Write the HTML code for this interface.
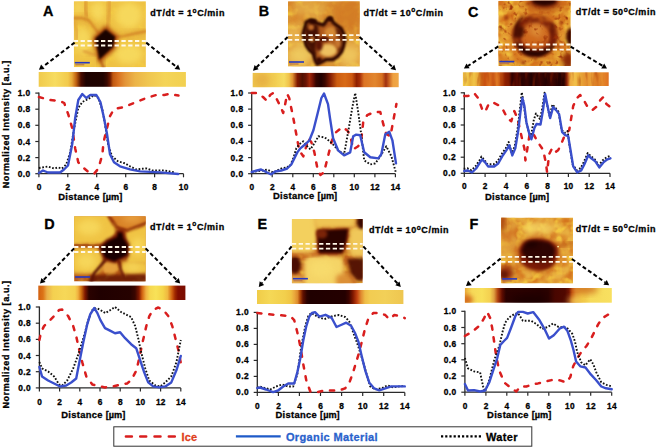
<!DOCTYPE html><html><head><meta charset="utf-8"><title>Figure</title><style>html,body{margin:0;padding:0;background:#fff;}body{width:656px;height:448px;overflow:hidden;}svg{display:block;}text{font-family:"Liberation Sans",sans-serif;font-weight:bold;stroke:#000;stroke-width:0.3px;}</style></head><body>
<svg width="656" height="448" viewBox="0 0 656 448">
<defs>

<filter id="bl1" color-interpolation-filters="sRGB" x="-30%" y="-30%" width="160%" height="160%"><feGaussianBlur stdDeviation="1"/></filter>
<filter id="bl15" color-interpolation-filters="sRGB" x="-30%" y="-30%" width="160%" height="160%"><feGaussianBlur stdDeviation="1.5"/></filter>
<filter id="bl2" color-interpolation-filters="sRGB" x="-30%" y="-30%" width="160%" height="160%"><feGaussianBlur stdDeviation="2"/></filter>
<filter id="bl3" color-interpolation-filters="sRGB" x="-40%" y="-40%" width="180%" height="180%"><feGaussianBlur stdDeviation="3"/></filter>
<filter id="bl5" color-interpolation-filters="sRGB" x="-50%" y="-50%" width="200%" height="200%"><feGaussianBlur stdDeviation="5"/></filter>
<filter id="tex" color-interpolation-filters="sRGB" x="0" y="0" width="100%" height="100%">
  <feTurbulence type="fractalNoise" baseFrequency="0.35" numOctaves="2" seed="3" result="n"/>
  <feColorMatrix in="n" type="matrix" values="0 0 0 0 1  0 0 0 0 0.95  0 0 0 0 0.6  0 0 0 -1.6 0.95" result="m"/>
  <feComposite in="m" in2="SourceGraphic" operator="in"/>
</filter>
<filter id="tex2" color-interpolation-filters="sRGB" x="0" y="0" width="100%" height="100%">
  <feTurbulence type="fractalNoise" baseFrequency="0.18" numOctaves="2" seed="7" result="n"/>
  <feColorMatrix in="n" type="matrix" values="0 0 0 0 0.75  0 0 0 0 0.35  0 0 0 0 0.05  0 0 0 -2.2 1.05" result="m"/>
  <feComposite in="m" in2="SourceGraphic" operator="in"/>
</filter>
<filter id="mot1" color-interpolation-filters="sRGB" x="0" y="0" width="100%" height="100%">
  <feTurbulence type="fractalNoise" baseFrequency="0.09" numOctaves="2" seed="11" result="n"/>
  <feColorMatrix in="n" type="matrix" values="0 0 0 0 0.82  0 0 0 0 0.42  0 0 0 0 0.10  3.5 0 0 0 -1.6" result="m0"/>
  <feGaussianBlur in="m0" stdDeviation="0.8" result="m"/>
  <feComposite in="m" in2="SourceGraphic" operator="in"/>
</filter>
<filter id="mot2" color-interpolation-filters="sRGB" x="0" y="0" width="100%" height="100%">
  <feTurbulence type="fractalNoise" baseFrequency="0.13" numOctaves="2" seed="5" result="n"/>
  <feColorMatrix in="n" type="matrix" values="0 0 0 0 0.97  0 0 0 0 0.82  0 0 0 0 0.26  0 3.5 0 0 -1.6" result="m0"/>
  <feGaussianBlur in="m0" stdDeviation="0.7" result="m"/>
  <feComposite in="m" in2="SourceGraphic" operator="in"/>
</filter>
<filter id="mot3" color-interpolation-filters="sRGB" x="0" y="0" width="100%" height="100%">
  <feTurbulence type="fractalNoise" baseFrequency="0.2" numOctaves="2" seed="21" result="n"/>
  <feColorMatrix in="n" type="matrix" values="0 0 0 0 0.62  0 0 0 0 0.20  0 0 0 0 0.03  0 0 4 0 -2.3" result="m0"/>
  <feGaussianBlur in="m0" stdDeviation="0.6" result="m"/>
  <feComposite in="m" in2="SourceGraphic" operator="in"/>
</filter>

<filter id="streak" color-interpolation-filters="sRGB" x="0" y="0" width="100%" height="100%"><feTurbulence type="fractalNoise" baseFrequency="0.22 0.05" numOctaves="2" seed="4" result="n"/><feColorMatrix in="n" type="matrix" values="0 0 0 0 0.62  0 0 0 0 0.16  0 0 0 0 0.0  3 0 0 0 -1.5" result="m0"/><feGaussianBlur in="m0" stdDeviation="0.5"/><feComposite in2="SourceGraphic" operator="in"/></filter>
<marker id="ah" viewBox="0 0 10 10" refX="9" refY="5" markerWidth="3.2" markerHeight="3.2" markerUnits="strokeWidth" orient="auto"><path d="M0,0 L10,5 L0,10 z" fill="#000"/></marker>
<linearGradient id="gA" gradientUnits="userSpaceOnUse" x1="38.7" y1="0" x2="185.89999999999998" y2="0">
<stop offset="0.0000" stop-color="#f0ca4c"/>
<stop offset="0.1107" stop-color="#f7dc60"/>
<stop offset="0.1990" stop-color="#f2ca4c"/>
<stop offset="0.2262" stop-color="#e8a838"/>
<stop offset="0.2548" stop-color="#c06010"/>
<stop offset="0.2874" stop-color="#4a0c00"/>
<stop offset="0.3213" stop-color="#1e0200"/>
<stop offset="0.4368" stop-color="#200300"/>
<stop offset="0.4640" stop-color="#3a0800"/>
<stop offset="0.4844" stop-color="#6a1800"/>
<stop offset="0.5048" stop-color="#c05810"/>
<stop offset="0.5387" stop-color="#d87020"/>
<stop offset="0.5863" stop-color="#e39438"/>
<stop offset="0.6542" stop-color="#ecb448"/>
<stop offset="0.7425" stop-color="#f0c650"/>
<stop offset="0.8580" stop-color="#f4d458"/>
<stop offset="1.0000" stop-color="#f2d050"/>
</linearGradient>
<linearGradient id="gB" gradientUnits="userSpaceOnUse" x1="252.7" y1="0" x2="398.7" y2="0">
<stop offset="0.0000" stop-color="#efc64c"/>
<stop offset="0.1527" stop-color="#f2ce52"/>
<stop offset="0.2144" stop-color="#f6dc60"/>
<stop offset="0.2486" stop-color="#f0c24a"/>
<stop offset="0.2733" stop-color="#e09030"/>
<stop offset="0.3062" stop-color="#801800"/>
<stop offset="0.3397" stop-color="#501000"/>
<stop offset="0.3651" stop-color="#6a1404"/>
<stop offset="0.3897" stop-color="#a02808"/>
<stop offset="0.4130" stop-color="#701204"/>
<stop offset="0.4336" stop-color="#350500"/>
<stop offset="0.4678" stop-color="#200000"/>
<stop offset="0.4952" stop-color="#3c0600"/>
<stop offset="0.5295" stop-color="#801c04"/>
<stop offset="0.5774" stop-color="#cc5c10"/>
<stop offset="0.6322" stop-color="#d86a16"/>
<stop offset="0.6801" stop-color="#cc5810"/>
<stop offset="0.7116" stop-color="#902000"/>
<stop offset="0.7349" stop-color="#a83008"/>
<stop offset="0.7623" stop-color="#dc7424"/>
<stop offset="0.8377" stop-color="#e2862e"/>
<stop offset="0.8856" stop-color="#d67020"/>
<stop offset="0.9123" stop-color="#a03010"/>
<stop offset="0.9336" stop-color="#c86020"/>
<stop offset="0.9610" stop-color="#eea040"/>
<stop offset="1.0000" stop-color="#f0a848"/>
</linearGradient>
<linearGradient id="gC" gradientUnits="userSpaceOnUse" x1="462.9" y1="0" x2="608.7" y2="0">
<stop offset="0.0000" stop-color="#f2c848"/>
<stop offset="0.0213" stop-color="#f4d050"/>
<stop offset="0.0487" stop-color="#e8b038"/>
<stop offset="0.0761" stop-color="#f0c448"/>
<stop offset="0.1036" stop-color="#e8a838"/>
<stop offset="0.1241" stop-color="#cc6818"/>
<stop offset="0.1516" stop-color="#c85010"/>
<stop offset="0.1790" stop-color="#de7420"/>
<stop offset="0.2064" stop-color="#c85414"/>
<stop offset="0.2339" stop-color="#e07a24"/>
<stop offset="0.2613" stop-color="#c05010"/>
<stop offset="0.2888" stop-color="#902000"/>
<stop offset="0.3162" stop-color="#7a1800"/>
<stop offset="0.3368" stop-color="#300000"/>
<stop offset="0.3711" stop-color="#5a0a00"/>
<stop offset="0.3985" stop-color="#240000"/>
<stop offset="0.4396" stop-color="#3a0400"/>
<stop offset="0.4671" stop-color="#200000"/>
<stop offset="0.5288" stop-color="#3a0400"/>
<stop offset="0.5700" stop-color="#240000"/>
<stop offset="0.6111" stop-color="#400600"/>
<stop offset="0.6523" stop-color="#220000"/>
<stop offset="0.6934" stop-color="#2c0200"/>
<stop offset="0.7140" stop-color="#902408"/>
<stop offset="0.7346" stop-color="#eca840"/>
<stop offset="0.7689" stop-color="#f2c04a"/>
<stop offset="0.8032" stop-color="#e8a838"/>
<stop offset="0.8443" stop-color="#e49030"/>
<stop offset="0.8786" stop-color="#eaa038"/>
<stop offset="0.9129" stop-color="#dc7c24"/>
<stop offset="0.9540" stop-color="#e48a2c"/>
<stop offset="1.0000" stop-color="#e07020"/>
</linearGradient>
<linearGradient id="gD" gradientUnits="userSpaceOnUse" x1="38.3" y1="0" x2="185.39999999999998" y2="0">
<stop offset="0.0000" stop-color="#d26010"/>
<stop offset="0.0320" stop-color="#dc7418"/>
<stop offset="0.0591" stop-color="#eab048"/>
<stop offset="0.0999" stop-color="#f4d050"/>
<stop offset="0.1815" stop-color="#f6d858"/>
<stop offset="0.2495" stop-color="#f4d050"/>
<stop offset="0.2699" stop-color="#f0b040"/>
<stop offset="0.2916" stop-color="#d07010"/>
<stop offset="0.3175" stop-color="#801800"/>
<stop offset="0.3447" stop-color="#2a0200"/>
<stop offset="0.4194" stop-color="#200000"/>
<stop offset="0.6234" stop-color="#260200"/>
<stop offset="0.6574" stop-color="#3a0600"/>
<stop offset="0.6846" stop-color="#801800"/>
<stop offset="0.7050" stop-color="#d06010"/>
<stop offset="0.7322" stop-color="#f0b040"/>
<stop offset="0.7593" stop-color="#f6d850"/>
<stop offset="0.8001" stop-color="#f8e258"/>
<stop offset="0.8477" stop-color="#f4d448"/>
<stop offset="0.8783" stop-color="#f0b840"/>
<stop offset="0.9089" stop-color="#d06010"/>
<stop offset="0.9293" stop-color="#a02800"/>
<stop offset="0.9497" stop-color="#800c00"/>
<stop offset="1.0000" stop-color="#7a0c00"/>
</linearGradient>
<linearGradient id="gE" gradientUnits="userSpaceOnUse" x1="257.0" y1="0" x2="403.4" y2="0">
<stop offset="0.0000" stop-color="#f0cc48"/>
<stop offset="0.0888" stop-color="#f5d856"/>
<stop offset="0.1913" stop-color="#f2cf4c"/>
<stop offset="0.2322" stop-color="#f0c444"/>
<stop offset="0.2561" stop-color="#eaa83c"/>
<stop offset="0.2773" stop-color="#dc8a2c"/>
<stop offset="0.2937" stop-color="#b04808"/>
<stop offset="0.3142" stop-color="#601000"/>
<stop offset="0.3415" stop-color="#2a0200"/>
<stop offset="0.3620" stop-color="#200000"/>
<stop offset="0.6011" stop-color="#240000"/>
<stop offset="0.6284" stop-color="#3c0400"/>
<stop offset="0.6557" stop-color="#801800"/>
<stop offset="0.6831" stop-color="#c04010"/>
<stop offset="0.7104" stop-color="#e08a30"/>
<stop offset="0.7377" stop-color="#eebc46"/>
<stop offset="0.7719" stop-color="#f2cc52"/>
<stop offset="0.8743" stop-color="#f2d058"/>
<stop offset="1.0000" stop-color="#eec650"/>
</linearGradient>
<linearGradient id="gF" gradientUnits="userSpaceOnUse" x1="464.9" y1="0" x2="611.8" y2="0">
<stop offset="0.0000" stop-color="#e8a838"/>
<stop offset="0.0211" stop-color="#f0c048"/>
<stop offset="0.0483" stop-color="#f6d858"/>
<stop offset="0.1164" stop-color="#f8e05a"/>
<stop offset="0.1709" stop-color="#f4d050"/>
<stop offset="0.1981" stop-color="#e0a040"/>
<stop offset="0.2240" stop-color="#b04010"/>
<stop offset="0.2526" stop-color="#600c00"/>
<stop offset="0.2798" stop-color="#2c0200"/>
<stop offset="0.5112" stop-color="#260000"/>
<stop offset="0.5657" stop-color="#2a0200"/>
<stop offset="0.6133" stop-color="#480600"/>
<stop offset="0.6814" stop-color="#500800"/>
<stop offset="0.7086" stop-color="#701404"/>
<stop offset="0.7291" stop-color="#c05010"/>
<stop offset="0.7563" stop-color="#e09030"/>
<stop offset="0.7971" stop-color="#f0c040"/>
<stop offset="0.8516" stop-color="#f6da5a"/>
<stop offset="1.0000" stop-color="#f8e060"/>
</linearGradient>
</defs>
<rect width="656" height="448" fill="#fff"/>
<svg x="73.8" y="1.2" width="72.1" height="66.0" viewBox="0 0 72.1 66.0" overflow="hidden"><rect width="72.1" height="66.0" fill="#efc244"/>
<rect width="72.1" height="66.0" fill="#fff" filter="url(#mot2)" opacity="0.5"/>
<ellipse cx="5" cy="6" rx="5" ry="7" fill="#f5d45a" filter="url(#bl3)"/>
<ellipse cx="24" cy="10" rx="7" ry="10" fill="#f6d85c" filter="url(#bl3)"/>
<ellipse cx="55" cy="14" rx="13" ry="13" fill="#f6d85c" filter="url(#bl3)"/>
<ellipse cx="9" cy="40" rx="8" ry="14" fill="#f5d65a" filter="url(#bl3)"/>
<ellipse cx="55" cy="53" rx="14" ry="10" fill="#f6d85c" filter="url(#bl3)"/>
<path d="M-1,17 L8,17 L15,19 L21,27 L25,32" fill="none" stroke="#cc7420" stroke-width="6" stroke-linecap="round" stroke-linejoin="round" filter="url(#bl3)" opacity="0.3"/>
<path d="M12,-1 L11.5,8 L13,15" fill="none" stroke="#d88a2c" stroke-width="6" stroke-linecap="round" stroke-linejoin="round" filter="url(#bl3)" opacity="0.3"/>
<path d="M35.7,-2 L35.4,8.2 L34.5,19.1 L33.4,29" fill="none" stroke="#dc9434" stroke-width="6" stroke-linecap="round" stroke-linejoin="round" filter="url(#bl3)" opacity="0.3"/>
<path d="M39,36 L49.8,35 L60.7,32.4 L73,30" fill="none" stroke="#cc7420" stroke-width="6" stroke-linecap="round" stroke-linejoin="round" filter="url(#bl3)" opacity="0.3"/>
<path d="M25,56 L27.5,61.3 L30,67" fill="none" stroke="#a84410" stroke-width="6" stroke-linecap="round" stroke-linejoin="round" filter="url(#bl3)" opacity="0.3"/>
<path d="M10,50 L18.5,53 L25,54" fill="none" stroke="#dc9434" stroke-width="6" stroke-linecap="round" stroke-linejoin="round" filter="url(#bl3)" opacity="0.3"/>
<path d="M0,20 L3,30 L3,38" fill="none" stroke="#e0a038" stroke-width="6" stroke-linecap="round" stroke-linejoin="round" filter="url(#bl3)" opacity="0.3"/>
<path d="M-1,17 L8,17 L15,19 L21,27 L25,32" fill="none" stroke="#cc7420" stroke-width="1.8" stroke-linecap="round" stroke-linejoin="round" filter="url(#bl1)" opacity="0.85"/>
<path d="M12,-1 L11.5,8 L13,15" fill="none" stroke="#d88a2c" stroke-width="1.8" stroke-linecap="round" stroke-linejoin="round" filter="url(#bl1)" opacity="0.85"/>
<path d="M35.7,-2 L35.4,8.2 L34.5,19.1 L33.4,29" fill="none" stroke="#dc9434" stroke-width="1.8" stroke-linecap="round" stroke-linejoin="round" filter="url(#bl1)" opacity="0.85"/>
<path d="M39,36 L49.8,35 L60.7,32.4 L73,30" fill="none" stroke="#cc7420" stroke-width="1.8" stroke-linecap="round" stroke-linejoin="round" filter="url(#bl1)" opacity="0.85"/>
<path d="M25,56 L27.5,61.3 L30,67" fill="none" stroke="#a84410" stroke-width="1.8" stroke-linecap="round" stroke-linejoin="round" filter="url(#bl1)" opacity="0.85"/>
<path d="M10,50 L18.5,53 L25,54" fill="none" stroke="#dc9434" stroke-width="1.8" stroke-linecap="round" stroke-linejoin="round" filter="url(#bl1)" opacity="0.85"/>
<path d="M0,20 L3,30 L3,38" fill="none" stroke="#e0a038" stroke-width="1.8" stroke-linecap="round" stroke-linejoin="round" filter="url(#bl1)" opacity="0.85"/>
<path d="M32,24 L44.5,35 L41,48 L25.5,61.5 L18.5,37 Z" fill="#a84008" filter="url(#bl2)"/>
<path d="M31.9,28 L41.5,35.5 L39,46 L25.5,58.5 L21.5,37 Z" fill="#1a0300" filter="url(#bl1)"/>
<rect x="1" y="60.7" width="15" height="1.6" fill="#2838c0"/><rect x="1.5" y="62.8" width="9" height="1.4" fill="#b06848" opacity="0.7"/></svg>
<line x1="73.8" y1="41.0" x2="145.9" y2="41.0" stroke="#fff8e8" stroke-width="1.8" stroke-dasharray="4.3 2.5"/>
<line x1="73.8" y1="45.5" x2="145.9" y2="45.5" stroke="#fff8e8" stroke-width="1.8" stroke-dasharray="4.3 2.5"/>
<rect x="38.7" y="72.0" width="147.2" height="14.8" fill="url(#gA)"/>
<line x1="74.6" y1="42.6" x2="42.9" y2="66.8" stroke="#000" stroke-width="2" stroke-dasharray="4 2.6"/>
<path d="M38.9,69.8 L41.1,64.5 L44.6,69.1 Z" fill="#000"/>
<line x1="146.2" y1="42.6" x2="176.3" y2="66.7" stroke="#000" stroke-width="2" stroke-dasharray="4 2.6"/>
<path d="M180.2,69.8 L174.5,68.9 L178.1,64.4 Z" fill="#000"/>
<text x="43.0" y="16.2" font-size="14.4">A</text>
<text x="150.3" y="16.2" font-size="9" letter-spacing="0.56">dT/dt = 1<tspan dy="-3.4" font-size="6.6">o</tspan><tspan dy="3.4">C/min</tspan></text>
<path d="M38.9,92.6 V173.7 H183.5" fill="none" stroke="#2a2a2a" stroke-width="1.3"/>
<line x1="35.3" y1="173.7" x2="38.9" y2="173.7" stroke="#2a2a2a" stroke-width="1.2"/>
<text x="30.7" y="176.7" font-size="8.4" letter-spacing="0.45" text-anchor="end">0.0</text>
<line x1="35.3" y1="157.6" x2="38.9" y2="157.6" stroke="#2a2a2a" stroke-width="1.2"/>
<text x="30.7" y="160.6" font-size="8.4" letter-spacing="0.45" text-anchor="end">0.2</text>
<line x1="35.3" y1="141.5" x2="38.9" y2="141.5" stroke="#2a2a2a" stroke-width="1.2"/>
<text x="30.7" y="144.5" font-size="8.4" letter-spacing="0.45" text-anchor="end">0.4</text>
<line x1="35.3" y1="125.3" x2="38.9" y2="125.3" stroke="#2a2a2a" stroke-width="1.2"/>
<text x="30.7" y="128.3" font-size="8.4" letter-spacing="0.45" text-anchor="end">0.6</text>
<line x1="35.3" y1="109.2" x2="38.9" y2="109.2" stroke="#2a2a2a" stroke-width="1.2"/>
<text x="30.7" y="112.2" font-size="8.4" letter-spacing="0.45" text-anchor="end">0.8</text>
<line x1="35.3" y1="93.1" x2="38.9" y2="93.1" stroke="#2a2a2a" stroke-width="1.2"/>
<text x="30.7" y="96.1" font-size="8.4" letter-spacing="0.45" text-anchor="end">1.0</text>
<line x1="38.9" y1="173.7" x2="38.9" y2="177.29999999999998" stroke="#2a2a2a" stroke-width="1.2"/>
<text x="39.1" y="189.7" font-size="8.3" letter-spacing="0.3" text-anchor="middle">0</text>
<line x1="67.8" y1="173.7" x2="67.8" y2="177.29999999999998" stroke="#2a2a2a" stroke-width="1.2"/>
<text x="68.0" y="189.7" font-size="8.3" letter-spacing="0.3" text-anchor="middle">2</text>
<line x1="96.7" y1="173.7" x2="96.7" y2="177.29999999999998" stroke="#2a2a2a" stroke-width="1.2"/>
<text x="96.9" y="189.7" font-size="8.3" letter-spacing="0.3" text-anchor="middle">4</text>
<line x1="125.7" y1="173.7" x2="125.7" y2="177.29999999999998" stroke="#2a2a2a" stroke-width="1.2"/>
<text x="125.9" y="189.7" font-size="8.3" letter-spacing="0.3" text-anchor="middle">6</text>
<line x1="154.6" y1="173.7" x2="154.6" y2="177.29999999999998" stroke="#2a2a2a" stroke-width="1.2"/>
<text x="154.8" y="189.7" font-size="8.3" letter-spacing="0.3" text-anchor="middle">8</text>
<line x1="183.5" y1="173.7" x2="183.5" y2="177.29999999999998" stroke="#2a2a2a" stroke-width="1.2"/>
<text x="183.7" y="189.7" font-size="8.3" letter-spacing="0.3" text-anchor="middle">10</text>
<text x="58.2" y="199.7" font-size="9.4" letter-spacing="0.32">Distance <tspan font-size="9.2" letter-spacing="0">[µm]</tspan></text>
<polyline points="38.9,97.0 50.0,100.0 60.1,101.0 64.2,103.0 68.2,114.2 72.2,128.2 75.2,148.4 78.3,162.4 84.3,168.5 90.3,173.5 94.3,173.5 98.4,168.5 102.4,154.4 103.5,142.2 107.0,128.2 110.0,116.1 114.0,109.1 124.1,107.1 136.2,102.0 146.2,98.0 156.2,95.0 164.3,95.0 169.3,94.0 174.3,95.0 178.5,95.5" fill="none" stroke="#d91e1e" stroke-width="2.5" stroke-dasharray="4.2 7.8" stroke-linecap="round" stroke-linejoin="round"/>
<polyline points="38.9,168.0 42.0,167.5 48.0,166.5 54.0,168.5 58.0,167.5 62.0,168.5 66.2,164.5 70.2,152.4 74.2,128.2 78.3,108.0 82.3,102.0 88.3,99.0 94.3,95.0 98.4,98.0 102.4,110.0 105.0,124.0 108.0,144.0 112.0,156.3 118.0,161.3 125.0,163.3 130.0,166.3 136.0,169.4 146.2,168.4 152.2,170.4 164.3,170.4 174.3,172.4" fill="none" stroke="#111" stroke-width="1.9" stroke-dasharray="1.7 1.7" stroke-linejoin="round"/>
<polyline points="38.9,173.0 43.0,170.5 48.0,172.5 60.0,172.5 64.0,169.5 68.0,165.5 72.2,144.3 75.2,118.0 78.3,100.0 82.3,94.0 86.3,98.0 90.3,95.0 96.4,95.0 100.4,102.0 104.0,118.0 107.0,134.0 110.0,154.3 114.0,162.3 120.0,166.3 130.0,169.4 140.2,171.4 160.3,172.4 178.3,174.0" fill="none" stroke="#3a4fcc" stroke-width="2.4" stroke-linejoin="round" stroke-linecap="round"/>
<svg x="288.0" y="1.2" width="71.8" height="65.3" viewBox="0 0 71.8 65.3" overflow="hidden"><rect width="71.8" height="65.3" fill="#dc9634"/>
<rect width="71.8" height="65.3" fill="#fff" filter="url(#mot2)" opacity="0.8"/>
<rect width="71.8" height="65.3" fill="#fff" filter="url(#mot1)" opacity="0.5"/>
<ellipse cx="60" cy="14" rx="16" ry="16" fill="#d27a24" filter="url(#bl5)" opacity="0.9"/>
<ellipse cx="22" cy="8" rx="18" ry="9" fill="#e4ac48" filter="url(#bl5)" opacity="0.8"/>
<ellipse cx="12" cy="54" rx="14" ry="12" fill="#eec85e" filter="url(#bl5)"/>
<ellipse cx="62" cy="54" rx="12" ry="12" fill="#eec45c" filter="url(#bl5)"/>
<ellipse cx="6" cy="32" rx="7" ry="10" fill="#e8b450" filter="url(#bl5)"/>
<path d="M18.3,20.7 L23,19.1 L29.3,22.3 L35.5,23.8 L39.4,18.3 L42.6,16.8 L44.9,20.7 L48,23.8 L52.7,27 L55.9,33.2 L56.6,39.5 L55.1,45.7 L53.5,50.4 L49.6,55.1 L44.9,58.2 L38.7,58.2 L32.4,61.3 L29.3,62.9 L26.9,58.2 L25.4,52 L21.5,48.8 L18.3,44.1 L16.8,37.9 L15.2,33.2 L16.8,27 Z" fill="#b05a1c" filter="url(#bl1)"/>
<path d="M18.3,20.7 L23,19.1 L29.3,22.3 L35.5,23.8 L39.4,18.3 L42.6,16.8 L44.9,20.7 L48,23.8 L52.7,27 L55.9,33.2 L56.6,39.5 L55.1,45.7 L53.5,50.4 L49.6,55.1 L44.9,58.2 L38.7,58.2 L32.4,61.3 L29.3,62.9 L26.9,58.2 L25.4,52 L21.5,48.8 L18.3,44.1 L16.8,37.9 L15.2,33.2 L16.8,27 Z" fill="none" stroke="#2e0600" stroke-width="3.6" stroke-linejoin="round" filter="url(#bl1)"/>
<ellipse cx="40" cy="49" rx="9" ry="6.5" fill="#eec060" filter="url(#bl15)"/>
<ellipse cx="43" cy="31" rx="6.5" ry="5.5" fill="#d68a34" filter="url(#bl15)"/>
<path d="M17,27 L23,21 L30,24 L31,34 L28,46 L27,55 L22,48 L18,42 Z" fill="#3a0800" filter="url(#bl15)" opacity="0.9"/>
<ellipse cx="31" cy="44" rx="3.5" ry="6" fill="#5a1204" filter="url(#bl15)"/>
<ellipse cx="24" cy="38" rx="2.5" ry="3" fill="#b86a2a" filter="url(#bl1)"/>
<path d="M47,25 L53,29 L55,38 L54,47 L50,52 L51,40 Z" fill="#3a0800" filter="url(#bl15)" opacity="0.8"/>
<ellipse cx="36" cy="38" rx="5" ry="2.5" fill="#4a0c02" filter="url(#bl1)"/>
<ellipse cx="50" cy="42" rx="3" ry="5" fill="#c87830" filter="url(#bl15)"/>
<ellipse cx="23" cy="26" rx="3" ry="3" fill="#c06a28" filter="url(#bl1)"/>
<ellipse cx="25" cy="20" rx="4" ry="2.5" fill="#2e0600" filter="url(#bl1)"/>
<ellipse cx="42" cy="17.5" rx="2.5" ry="2" fill="#2e0600" filter="url(#bl1)"/>
<ellipse cx="31" cy="59" rx="3" ry="3" fill="#3a0800" filter="url(#bl1)"/>
<rect x="1" y="60.0" width="15" height="1.6" fill="#2838c0"/><rect x="1.5" y="62.099999999999994" width="9" height="1.4" fill="#b06848" opacity="0.7"/></svg>
<line x1="288.0" y1="35.2" x2="359.8" y2="35.2" stroke="#fff8e8" stroke-width="1.8" stroke-dasharray="4.3 2.5"/>
<line x1="288.0" y1="39.8" x2="359.8" y2="39.8" stroke="#fff8e8" stroke-width="1.8" stroke-dasharray="4.3 2.5"/>
<rect x="252.7" y="72.9" width="146.0" height="14.3" fill="url(#gB)"/>
<svg x="252.7" y="72.9" width="146.0" height="14.3" viewBox="252.7 72.9 146.0 14.3" overflow="hidden"><ellipse cx="262" cy="80" rx="8" ry="8" fill="#e4a840" filter="url(#bl3)" opacity="0.7"/></svg>
<line x1="287.7" y1="37.0" x2="256.6" y2="67.2" stroke="#000" stroke-width="2" stroke-dasharray="4 2.6"/>
<path d="M253.0,70.7 L254.6,65.1 L258.6,69.3 Z" fill="#000"/>
<line x1="359.6" y1="37.0" x2="392.3" y2="66.8" stroke="#000" stroke-width="2" stroke-dasharray="4 2.6"/>
<path d="M396.0,70.2 L390.4,69.0 L394.3,64.7 Z" fill="#000"/>
<text x="258.7" y="16.3" font-size="14.4">B</text>
<text x="363.4" y="15.6" font-size="9" letter-spacing="0.56">dT/dt = 10<tspan dy="-3.4" font-size="6.6">o</tspan><tspan dy="3.4">C/min</tspan></text>
<path d="M251.7,92.5 V173.7 H395.4" fill="none" stroke="#2a2a2a" stroke-width="1.3"/>
<line x1="248.1" y1="173.7" x2="251.7" y2="173.7" stroke="#2a2a2a" stroke-width="1.2"/>
<text x="243.5" y="176.7" font-size="8.4" letter-spacing="0.45" text-anchor="end">0.0</text>
<line x1="248.1" y1="157.6" x2="251.7" y2="157.6" stroke="#2a2a2a" stroke-width="1.2"/>
<text x="243.5" y="160.6" font-size="8.4" letter-spacing="0.45" text-anchor="end">0.2</text>
<line x1="248.1" y1="141.4" x2="251.7" y2="141.4" stroke="#2a2a2a" stroke-width="1.2"/>
<text x="243.5" y="144.4" font-size="8.4" letter-spacing="0.45" text-anchor="end">0.4</text>
<line x1="248.1" y1="125.3" x2="251.7" y2="125.3" stroke="#2a2a2a" stroke-width="1.2"/>
<text x="243.5" y="128.3" font-size="8.4" letter-spacing="0.45" text-anchor="end">0.6</text>
<line x1="248.1" y1="109.1" x2="251.7" y2="109.1" stroke="#2a2a2a" stroke-width="1.2"/>
<text x="243.5" y="112.1" font-size="8.4" letter-spacing="0.45" text-anchor="end">0.8</text>
<line x1="248.1" y1="93.0" x2="251.7" y2="93.0" stroke="#2a2a2a" stroke-width="1.2"/>
<text x="243.5" y="96.0" font-size="8.4" letter-spacing="0.45" text-anchor="end">1.0</text>
<line x1="251.7" y1="173.7" x2="251.7" y2="177.29999999999998" stroke="#2a2a2a" stroke-width="1.2"/>
<text x="251.9" y="189.7" font-size="8.3" letter-spacing="0.3" text-anchor="middle">0</text>
<line x1="272.2" y1="173.7" x2="272.2" y2="177.29999999999998" stroke="#2a2a2a" stroke-width="1.2"/>
<text x="272.4" y="189.7" font-size="8.3" letter-spacing="0.3" text-anchor="middle">2</text>
<line x1="292.8" y1="173.7" x2="292.8" y2="177.29999999999998" stroke="#2a2a2a" stroke-width="1.2"/>
<text x="293.0" y="189.7" font-size="8.3" letter-spacing="0.3" text-anchor="middle">4</text>
<line x1="313.3" y1="173.7" x2="313.3" y2="177.29999999999998" stroke="#2a2a2a" stroke-width="1.2"/>
<text x="313.5" y="189.7" font-size="8.3" letter-spacing="0.3" text-anchor="middle">6</text>
<line x1="333.8" y1="173.7" x2="333.8" y2="177.29999999999998" stroke="#2a2a2a" stroke-width="1.2"/>
<text x="334.0" y="189.7" font-size="8.3" letter-spacing="0.3" text-anchor="middle">8</text>
<line x1="354.3" y1="173.7" x2="354.3" y2="177.29999999999998" stroke="#2a2a2a" stroke-width="1.2"/>
<text x="354.5" y="189.7" font-size="8.3" letter-spacing="0.3" text-anchor="middle">10</text>
<line x1="374.9" y1="173.7" x2="374.9" y2="177.29999999999998" stroke="#2a2a2a" stroke-width="1.2"/>
<text x="375.1" y="189.7" font-size="8.3" letter-spacing="0.3" text-anchor="middle">12</text>
<line x1="395.4" y1="173.7" x2="395.4" y2="177.29999999999998" stroke="#2a2a2a" stroke-width="1.2"/>
<text x="395.6" y="189.7" font-size="8.3" letter-spacing="0.3" text-anchor="middle">14</text>
<text x="273.0" y="199.3" font-size="9.4" letter-spacing="0.32">Distance <tspan font-size="9.2" letter-spacing="0">[µm]</tspan></text>
<polyline points="251.7,93.0 257.0,93.0 263.0,97.0 267.1,101.0 270.1,95.0 273.1,93.0 277.2,100.0 281.2,108.0 283.2,113.0 285.2,104.0 287.2,94.0 289.2,98.0 293.3,118.0 296.3,134.3 299.3,150.4 303.3,156.4 306.3,146.3 308.4,138.3 311.4,142.3 314.4,152.4 317.4,168.5 320.4,175.0 324.0,172.4 328.0,156.3 332.0,140.3 336.1,132.2 342.1,127.2 347.1,130.2 350.2,135.2 353.2,149.3 358.2,146.3 361.2,140.3 363.2,122.2 367.2,115.1 374.3,112.1 380.3,112.1 383.3,124.2 386.3,134.2 390.4,136.2 393.4,120.2 396.4,104.1" fill="none" stroke="#d91e1e" stroke-width="2.5" stroke-dasharray="4.2 7.8" stroke-linecap="round" stroke-linejoin="round"/>
<polyline points="251.7,172.0 263.0,170.5 267.1,169.5 273.1,172.5 281.2,168.5 286.2,167.5 290.2,165.5 293.3,158.4 296.3,148.4 299.3,144.3 303.3,141.3 307.3,146.3 310.4,149.4 314.4,143.3 318.4,136.3 323.4,137.3 326.0,138.3 332.1,143.3 338.1,150.3 344.1,154.3 348.1,132.2 352.2,108.1 355.2,93.0 358.2,112.1 361.2,134.2 364.2,160.4 370.3,164.4 375.3,163.4 380.3,156.3 386.3,146.3 391.4,156.3 396.0,173.0" fill="none" stroke="#111" stroke-width="1.9" stroke-dasharray="1.7 1.7" stroke-linejoin="round"/>
<polyline points="251.7,172.0 257.0,170.5 261.1,169.5 267.1,172.5 271.1,174.3 275.2,171.5 281.2,170.5 287.2,168.5 291.3,164.5 294.3,158.4 297.3,152.4 300.3,148.4 305.3,144.3 309.4,140.3 313.4,130.3 317.4,114.2 321.4,98.0 324.0,93.5 328.0,104.1 330.0,118.2 333.1,138.3 338.1,150.3 344.1,155.3 350.2,152.3 353.2,136.2 356.2,134.6 360.2,135.2 364.2,152.3 370.3,157.3 378.3,158.4 381.3,154.3 385.3,134.2 389.3,131.8 392.4,140.3 396.0,163.4" fill="none" stroke="#3a4fcc" stroke-width="2.4" stroke-linejoin="round" stroke-linecap="round"/>
<svg x="498.3" y="0.8" width="72.5" height="65.3" viewBox="0 0 72.5 65.3" overflow="hidden"><rect width="72.5" height="65.3" fill="#eaae3a"/>
<rect width="72.5" height="65.3" fill="#fff" filter="url(#mot1)"/>
<rect width="72.5" height="65.3" fill="#fff" filter="url(#mot1)" transform="translate(72,0) scale(-1,1)" opacity="0.8"/>
<rect width="72.5" height="65.3" fill="#fff" filter="url(#mot2)" opacity="0.75"/>
<rect width="72.5" height="65.3" fill="#fff" filter="url(#mot3)"/>
<ellipse cx="37" cy="35" rx="28" ry="26" fill="#d47020" filter="url(#bl5)" opacity="0.7"/>
<ellipse cx="46" cy="3" rx="22" ry="12" fill="#cc6a1c" filter="url(#bl5)" opacity="0.8"/>
<ellipse cx="46" cy="1" rx="15" ry="7" fill="#8a2a0a" filter="url(#bl2)"/>
<ellipse cx="46" cy="0" rx="12" ry="5" fill="#2a0400" filter="url(#bl15)"/>
<ellipse cx="36.8" cy="35.5" rx="18.5" ry="17" fill="#cc6620" stroke="#7a1e08" stroke-width="8" filter="url(#bl15)"/>
<ellipse cx="38" cy="30" rx="8" ry="7" fill="#dc8a34" filter="url(#bl3)"/>
<ellipse cx="36.8" cy="35.5" rx="24" ry="22" fill="#fff" filter="url(#mot3)" opacity="0.9"/>
<ellipse cx="36.8" cy="35.5" rx="24" ry="22" fill="#fff" filter="url(#mot1)" opacity="0.8"/>
<path d="M17,40 Q22,56 38,56 Q53,55 57,42 Q48,51 38,50 Q26,50 17,40 Z" fill="#2a0400" filter="url(#bl15)"/>
<path d="M15,37 Q14,22 26,14 Q19,24 20,37 Z" fill="#4a0c02" filter="url(#bl15)"/>
<ellipse cx="22" cy="31" rx="4" ry="6" fill="#3a0800" filter="url(#bl15)" opacity="0.8"/>
<ellipse cx="54" cy="28" rx="3" ry="6" fill="#5a1004" filter="url(#bl15)" opacity="0.7"/>
<ellipse cx="73" cy="36" rx="5" ry="9" fill="#3a0600" filter="url(#bl15)"/>
<ellipse cx="70" cy="60" rx="6" ry="8" fill="#8a2a08" filter="url(#bl2)"/>
<ellipse cx="8" cy="17" rx="2.2" ry="2.2" fill="#a03c0e" filter="url(#bl1)" opacity="0.85"/>
<ellipse cx="3" cy="28" rx="1.8" ry="1.8" fill="#a03c0e" filter="url(#bl1)" opacity="0.85"/>
<ellipse cx="25" cy="62" rx="2.2" ry="2.2" fill="#a03c0e" filter="url(#bl1)" opacity="0.85"/>
<ellipse cx="37" cy="58" rx="1.8" ry="1.8" fill="#a03c0e" filter="url(#bl1)" opacity="0.85"/>
<ellipse cx="63" cy="22" rx="1.8" ry="1.8" fill="#a03c0e" filter="url(#bl1)" opacity="0.85"/>
<ellipse cx="13" cy="6" rx="1.6" ry="1.6" fill="#a03c0e" filter="url(#bl1)" opacity="0.85"/>
<ellipse cx="60" cy="46" rx="1.8" ry="1.8" fill="#a03c0e" filter="url(#bl1)" opacity="0.85"/>
<ellipse cx="29" cy="3" rx="1.5" ry="1.5" fill="#a03c0e" filter="url(#bl1)" opacity="0.85"/>
<rect x="1" y="60.0" width="15" height="1.6" fill="#2838c0"/><rect x="1.5" y="62.099999999999994" width="9" height="1.4" fill="#b06848" opacity="0.7"/></svg>
<line x1="498.3" y1="44.5" x2="570.8" y2="44.5" stroke="#fff8e8" stroke-width="1.8" stroke-dasharray="4.3 2.5"/>
<line x1="498.3" y1="49.7" x2="570.8" y2="49.7" stroke="#fff8e8" stroke-width="1.8" stroke-dasharray="4.3 2.5"/>
<rect x="462.9" y="72.3" width="145.8" height="13.7" fill="url(#gC)"/>
<svg x="462.9" y="72.3" width="145.8" height="13.7" viewBox="462.9 72.3 145.8 13.7" overflow="hidden"><rect x="462" y="72" width="148" height="15" fill="#fff" filter="url(#streak)" opacity="0.45"/></svg>
<line x1="498.3" y1="46.4" x2="468.1" y2="65.8" stroke="#000" stroke-width="2" stroke-dasharray="4 2.6"/>
<path d="M463.9,68.5 L466.5,63.4 L469.7,68.2 Z" fill="#000"/>
<line x1="570.6" y1="46.6" x2="602.7" y2="65.9" stroke="#000" stroke-width="2" stroke-dasharray="4 2.6"/>
<path d="M607.0,68.5 L601.2,68.4 L604.2,63.4 Z" fill="#000"/>
<text x="467.9" y="16.5" font-size="14.4">C</text>
<text x="575.8" y="15.4" font-size="9" letter-spacing="0.56">dT/dt = 50<tspan dy="-3.4" font-size="6.6">o</tspan><tspan dy="3.4">C/min</tspan></text>
<path d="M464.3,92.3 V173.3 H610.0" fill="none" stroke="#2a2a2a" stroke-width="1.3"/>
<line x1="460.7" y1="173.3" x2="464.3" y2="173.3" stroke="#2a2a2a" stroke-width="1.2"/>
<text x="456.1" y="176.3" font-size="8.4" letter-spacing="0.45" text-anchor="end">0.0</text>
<line x1="460.7" y1="157.2" x2="464.3" y2="157.2" stroke="#2a2a2a" stroke-width="1.2"/>
<text x="456.1" y="160.2" font-size="8.4" letter-spacing="0.45" text-anchor="end">0.2</text>
<line x1="460.7" y1="141.1" x2="464.3" y2="141.1" stroke="#2a2a2a" stroke-width="1.2"/>
<text x="456.1" y="144.1" font-size="8.4" letter-spacing="0.45" text-anchor="end">0.4</text>
<line x1="460.7" y1="125.0" x2="464.3" y2="125.0" stroke="#2a2a2a" stroke-width="1.2"/>
<text x="456.1" y="128.0" font-size="8.4" letter-spacing="0.45" text-anchor="end">0.6</text>
<line x1="460.7" y1="108.9" x2="464.3" y2="108.9" stroke="#2a2a2a" stroke-width="1.2"/>
<text x="456.1" y="111.9" font-size="8.4" letter-spacing="0.45" text-anchor="end">0.8</text>
<line x1="460.7" y1="92.8" x2="464.3" y2="92.8" stroke="#2a2a2a" stroke-width="1.2"/>
<text x="456.1" y="95.8" font-size="8.4" letter-spacing="0.45" text-anchor="end">1.0</text>
<line x1="464.3" y1="173.3" x2="464.3" y2="176.9" stroke="#2a2a2a" stroke-width="1.2"/>
<text x="464.5" y="189.3" font-size="8.3" letter-spacing="0.3" text-anchor="middle">0</text>
<line x1="485.1" y1="173.3" x2="485.1" y2="176.9" stroke="#2a2a2a" stroke-width="1.2"/>
<text x="485.3" y="189.3" font-size="8.3" letter-spacing="0.3" text-anchor="middle">2</text>
<line x1="505.9" y1="173.3" x2="505.9" y2="176.9" stroke="#2a2a2a" stroke-width="1.2"/>
<text x="506.1" y="189.3" font-size="8.3" letter-spacing="0.3" text-anchor="middle">4</text>
<line x1="526.7" y1="173.3" x2="526.7" y2="176.9" stroke="#2a2a2a" stroke-width="1.2"/>
<text x="526.9" y="189.3" font-size="8.3" letter-spacing="0.3" text-anchor="middle">6</text>
<line x1="547.6" y1="173.3" x2="547.6" y2="176.9" stroke="#2a2a2a" stroke-width="1.2"/>
<text x="547.8" y="189.3" font-size="8.3" letter-spacing="0.3" text-anchor="middle">8</text>
<line x1="568.4" y1="173.3" x2="568.4" y2="176.9" stroke="#2a2a2a" stroke-width="1.2"/>
<text x="568.6" y="189.3" font-size="8.3" letter-spacing="0.3" text-anchor="middle">10</text>
<line x1="589.2" y1="173.3" x2="589.2" y2="176.9" stroke="#2a2a2a" stroke-width="1.2"/>
<text x="589.4" y="189.3" font-size="8.3" letter-spacing="0.3" text-anchor="middle">12</text>
<line x1="610.0" y1="173.3" x2="610.0" y2="176.9" stroke="#2a2a2a" stroke-width="1.2"/>
<text x="610.2" y="189.3" font-size="8.3" letter-spacing="0.3" text-anchor="middle">14</text>
<text x="484.9" y="199.7" font-size="9.4" letter-spacing="0.32">Distance <tspan font-size="9.2" letter-spacing="0">[µm]</tspan></text>
<polyline points="464.3,96.0 468.0,96.0 474.1,93.0 478.1,98.0 482.1,109.1 485.1,112.1 488.2,105.1 492.2,102.1 498.2,105.1 502.2,108.1 507.3,118.2 511.3,121.2 514.3,111.1 517.3,118.2 520.4,131.3 522.4,140.3 524.4,148.4 525.4,160.4 527.4,148.4 530.0,132.0 534.0,135.2 538.0,142.3 542.0,148.3 544.1,154.3 546.1,164.4 547.1,172.4 549.1,154.3 552.1,148.3 555.1,152.3 558.1,150.3 561.1,144.3 565.2,134.2 569.2,130.2 571.2,118.1 573.2,106.1 576.2,99.0 580.2,95.0 584.3,101.1 588.3,108.1 592.3,110.1 597.3,106.1 600.3,100.1 603.4,97.0 606.4,104.1 610.4,107.1" fill="none" stroke="#d91e1e" stroke-width="2.5" stroke-dasharray="4.2 7.8" stroke-linecap="round" stroke-linejoin="round"/>
<polyline points="463.7,168.8 467.4,168.3 471.4,170.3 475.5,166.3 479.5,160.2 481.5,156.5 484.5,160.2 487.6,164.3 493.6,164.3 497.6,161.3 501.6,154.2 505.7,148.2 508.7,142.0 511.7,153.2 514.7,146.2 517.7,128.1 519.8,109.9 521.8,92.3 523.8,103.9 525.8,120.0 528.8,132.1 530.8,137.1 533.8,120.0 535.9,113.5 539.9,119.0 542.4,107.8 544.5,92.8 546.5,101.9 549.5,115.9 552.5,104.5 555.5,107.9 558.5,111.9 561.6,130.0 564.6,133.0 567.6,131.0 569.6,146.1 572.6,164.2 576.6,170.2 580.6,168.2 583.7,162.2 587.7,153.1 590.7,156.1 594.7,159.2 598.7,165.2 602.8,160.2 606.8,157.1 609.8,156.1" fill="none" stroke="#111" stroke-width="1.9" stroke-dasharray="1.7 1.7" stroke-linejoin="round"/>
<polyline points="464.3,171.0 468.0,170.5 472.0,172.5 476.1,168.5 480.1,162.4 482.1,159.4 485.1,162.4 488.2,166.5 494.2,166.5 498.2,163.5 502.2,156.4 506.3,150.4 509.3,145.3 512.3,155.4 515.3,148.4 518.3,130.3 520.4,112.1 522.4,98.0 524.4,106.1 526.4,122.2 529.4,134.3 531.4,139.3 534.4,128.0 536.5,124.0 540.5,124.5 543.0,110.0 545.1,94.0 547.1,104.1 550.1,118.1 553.1,107.1 556.1,110.1 559.1,114.1 562.2,132.2 565.2,135.2 568.2,136.2 570.2,148.3 573.2,166.4 577.2,172.4 581.2,170.4 584.3,164.4 588.3,155.3 591.3,158.3 595.3,161.4 599.3,167.4 603.4,162.4 607.4,159.3 610.4,158.3" fill="none" stroke="#3a4fcc" stroke-width="2.4" stroke-linejoin="round" stroke-linecap="round"/>
<svg x="74.1" y="216.3" width="71.6" height="65.2" viewBox="0 0 71.6 65.2" overflow="hidden"><rect width="71.6" height="65.2" fill="#b04c10"/>
<rect width="71.6" height="65.2" fill="#fff" filter="url(#mot2)" opacity="0.4"/>
<path d="M-4,-4 L31,-4 L42,15 L36,24.5 L26,27.5 L-4,27.5 Z" fill="#f0c444" filter="url(#bl15)"/>
<ellipse cx="15" cy="11" rx="12" ry="8" fill="#f6d65a" filter="url(#bl3)"/>
<path d="M34,-4 L76,-4 L76,6 L54,13.5 L44,10.5 Z" fill="#da8428" filter="url(#bl15)"/>
<ellipse cx="58" cy="2" rx="10" ry="4" fill="#e8a040" filter="url(#bl3)"/>
<path d="M52,16 L76,8 L76,47 L54,47 L51,27 Z" fill="#f0c444" filter="url(#bl15)"/>
<ellipse cx="64" cy="30" rx="6" ry="9" fill="#f6d65a" filter="url(#bl3)"/>
<rect x="-6" y="31" width="35" height="27" rx="9" fill="#f0c444" filter="url(#bl2)"/>
<ellipse cx="12" cy="45" rx="10" ry="8" fill="#f6d65a" filter="url(#bl3)"/>
<rect x="28" y="45" width="16" height="12" rx="5" fill="#e6a23e" filter="url(#bl15)"/>
<rect x="46" y="45" width="30" height="13" rx="6" fill="#f0c444" filter="url(#bl2)"/>
<ellipse cx="59" cy="51" rx="8" ry="4" fill="#f5d458" filter="url(#bl3)"/>
<path d="M16,59 L72,58 L72,66 L14,66 Z" fill="#601404" filter="url(#bl15)" opacity="0.8"/>
<path d="M34,-1 L43,11 L53,14 L73,6" fill="none" stroke="#8a2a08" stroke-width="1.8" stroke-linecap="round" stroke-linejoin="round" filter="url(#bl1)"/>
<path d="M31,44 L26,50 L20,57 L17,66" fill="none" stroke="#5a1004" stroke-width="2.6" stroke-linecap="round" stroke-linejoin="round" filter="url(#bl1)"/>
<path d="M45,45 L46.5,53 L49.5,61" fill="none" stroke="#6a1606" stroke-width="2.4" stroke-linecap="round" stroke-linejoin="round" filter="url(#bl1)"/>
<path d="M-1,28.5 L12,29 L27,30.5" fill="none" stroke="#8a2a08" stroke-width="2.2" stroke-linecap="round" stroke-linejoin="round" filter="url(#bl15)" opacity="0.8"/>
<path d="M24.5,31.3 L32.5,23 L41.5,19 L42.5,13.5 L49.5,14 L51,20.5 L55.5,28 L55,40 L41,47 L30,44 Z" fill="#6a1404" filter="url(#bl15)"/>
<path d="M26.8,31.3 L33.9,25.1 L43,21 L44,16.5 L48,16.5 L49,22 L53.4,29 L52.6,38.4 L40.1,44.6 L31.5,41.5 Z" fill="#1a0000" filter="url(#bl1)"/>
<rect x="1" y="59.900000000000006" width="15" height="1.6" fill="#2838c0"/><rect x="1.5" y="62.0" width="9" height="1.4" fill="#b06848" opacity="0.7"/></svg>
<line x1="74.1" y1="247.0" x2="145.7" y2="247.0" stroke="#fff8e8" stroke-width="1.8" stroke-dasharray="4.3 2.5"/>
<line x1="74.1" y1="252.0" x2="145.7" y2="252.0" stroke="#fff8e8" stroke-width="1.8" stroke-dasharray="4.3 2.5"/>
<rect x="38.3" y="285.6" width="147.1" height="14.4" fill="url(#gD)"/>
<line x1="74.1" y1="248.4" x2="43.5" y2="280.0" stroke="#000" stroke-width="2" stroke-dasharray="4 2.6"/>
<path d="M40.0,283.6 L41.4,278.0 L45.6,282.0 Z" fill="#000"/>
<line x1="145.6" y1="248.4" x2="176.7" y2="279.9" stroke="#000" stroke-width="2" stroke-dasharray="4 2.6"/>
<path d="M180.2,283.5 L174.6,282.0 L178.8,277.9 Z" fill="#000"/>
<text x="44.2" y="229.1" font-size="14.4">D</text>
<text x="150.0" y="229.6" font-size="9" letter-spacing="0.56">dT/dt = 1<tspan dy="-3.4" font-size="6.6">o</tspan><tspan dy="3.4">C/min</tspan></text>
<path d="M39.4,306.5 V387.9 H180.8" fill="none" stroke="#2a2a2a" stroke-width="1.3"/>
<line x1="35.8" y1="387.9" x2="39.4" y2="387.9" stroke="#2a2a2a" stroke-width="1.2"/>
<text x="31.2" y="390.9" font-size="8.4" letter-spacing="0.45" text-anchor="end">0.0</text>
<line x1="35.8" y1="371.7" x2="39.4" y2="371.7" stroke="#2a2a2a" stroke-width="1.2"/>
<text x="31.2" y="374.7" font-size="8.4" letter-spacing="0.45" text-anchor="end">0.2</text>
<line x1="35.8" y1="355.5" x2="39.4" y2="355.5" stroke="#2a2a2a" stroke-width="1.2"/>
<text x="31.2" y="358.5" font-size="8.4" letter-spacing="0.45" text-anchor="end">0.4</text>
<line x1="35.8" y1="339.4" x2="39.4" y2="339.4" stroke="#2a2a2a" stroke-width="1.2"/>
<text x="31.2" y="342.4" font-size="8.4" letter-spacing="0.45" text-anchor="end">0.6</text>
<line x1="35.8" y1="323.2" x2="39.4" y2="323.2" stroke="#2a2a2a" stroke-width="1.2"/>
<text x="31.2" y="326.2" font-size="8.4" letter-spacing="0.45" text-anchor="end">0.8</text>
<line x1="35.8" y1="307.0" x2="39.4" y2="307.0" stroke="#2a2a2a" stroke-width="1.2"/>
<text x="31.2" y="310.0" font-size="8.4" letter-spacing="0.45" text-anchor="end">1.0</text>
<line x1="39.4" y1="387.9" x2="39.4" y2="391.5" stroke="#2a2a2a" stroke-width="1.2"/>
<text x="39.6" y="404.6" font-size="8.3" letter-spacing="0.3" text-anchor="middle">0</text>
<line x1="59.6" y1="387.9" x2="59.6" y2="391.5" stroke="#2a2a2a" stroke-width="1.2"/>
<text x="59.8" y="404.6" font-size="8.3" letter-spacing="0.3" text-anchor="middle">2</text>
<line x1="79.8" y1="387.9" x2="79.8" y2="391.5" stroke="#2a2a2a" stroke-width="1.2"/>
<text x="80.0" y="404.6" font-size="8.3" letter-spacing="0.3" text-anchor="middle">4</text>
<line x1="100.0" y1="387.9" x2="100.0" y2="391.5" stroke="#2a2a2a" stroke-width="1.2"/>
<text x="100.2" y="404.6" font-size="8.3" letter-spacing="0.3" text-anchor="middle">6</text>
<line x1="120.2" y1="387.9" x2="120.2" y2="391.5" stroke="#2a2a2a" stroke-width="1.2"/>
<text x="120.4" y="404.6" font-size="8.3" letter-spacing="0.3" text-anchor="middle">8</text>
<line x1="140.4" y1="387.9" x2="140.4" y2="391.5" stroke="#2a2a2a" stroke-width="1.2"/>
<text x="140.6" y="404.6" font-size="8.3" letter-spacing="0.3" text-anchor="middle">10</text>
<line x1="160.6" y1="387.9" x2="160.6" y2="391.5" stroke="#2a2a2a" stroke-width="1.2"/>
<text x="160.8" y="404.6" font-size="8.3" letter-spacing="0.3" text-anchor="middle">12</text>
<line x1="180.8" y1="387.9" x2="180.8" y2="391.5" stroke="#2a2a2a" stroke-width="1.2"/>
<text x="181.0" y="404.6" font-size="8.3" letter-spacing="0.3" text-anchor="middle">14</text>
<text x="61.2" y="417.6" font-size="9.4" letter-spacing="0.32">Distance <tspan font-size="9.2" letter-spacing="0">[µm]</tspan></text>
<polyline points="39.4,340.0 41.0,332.2 44.0,326.1 48.1,322.1 54.1,316.1 59.1,310.0 62.2,309.6 68.2,316.1 73.2,326.1 76.2,336.2 79.3,350.3 82.3,362.4 86.3,376.4 92.3,384.5 100.4,386.5 105.0,387.4 113.0,386.4 121.1,384.4 127.1,383.4 131.1,380.4 136.5,370.3 139.6,356.3 142.6,342.2 146.3,326.1 149.3,316.1 153.0,310.0 158.3,307.5 163.3,310.0 168.3,316.1 172.3,326.1 175.4,338.2 178.4,350.2 180.8,363.0" fill="none" stroke="#d91e1e" stroke-width="2.5" stroke-dasharray="4.2 7.8" stroke-linecap="round" stroke-linejoin="round"/>
<polyline points="39.4,362.0 42.0,368.4 48.1,371.4 54.1,376.4 59.1,384.5 62.2,385.5 67.2,380.5 73.2,368.4 78.3,354.3 83.3,338.2 88.3,320.1 92.3,310.0 96.4,308.0 100.4,310.0 105.4,313.1 110.4,310.0 115.0,307.0 121.1,312.0 127.1,315.1 131.1,317.1 135.2,326.1 138.2,338.2 141.2,352.3 145.2,368.3 149.2,380.4 155.3,385.4 160.3,386.4 165.3,382.4 171.3,376.4 176.4,362.3 180.8,340.0" fill="none" stroke="#111" stroke-width="1.9" stroke-dasharray="1.7 1.7" stroke-linejoin="round"/>
<polyline points="39.4,367.0 42.0,376.4 48.1,380.5 54.1,383.5 60.1,386.5 66.2,385.5 71.2,382.5 76.2,378.5 79.3,362.4 83.3,342.2 87.3,324.1 90.3,314.1 94.3,308.0 97.4,313.1 100.4,320.1 105.0,328.1 111.0,331.1 115.0,333.2 120.1,332.2 125.1,338.2 131.1,344.2 136.2,348.2 140.2,360.3 144.2,372.4 148.2,382.4 153.2,386.4 159.3,387.4 165.3,386.4 171.3,382.4 176.4,370.3 180.8,356.0" fill="none" stroke="#3a4fcc" stroke-width="2.4" stroke-linejoin="round" stroke-linecap="round"/>
<svg x="291.9" y="219.0" width="70.8" height="64.2" viewBox="0 0 70.8 64.2" overflow="hidden"><rect width="70.8" height="64.2" fill="#c86a20"/>
<rect width="70.8" height="64.2" fill="#fff" filter="url(#mot2)" opacity="0.6"/>
<rect x="-6" y="-6" width="31" height="40" rx="8" fill="#f3d05e" filter="url(#bl2)"/>
<rect x="22" y="-6" width="42" height="15" rx="5" fill="#efc454" filter="url(#bl2)"/>
<rect x="57" y="8" width="20" height="30" rx="7" fill="#f0c85a" filter="url(#bl2)"/>
<rect x="12" y="37" width="40" height="34" rx="8" fill="#f5d466" filter="url(#bl2)"/>
<ellipse cx="30" cy="50" rx="12" ry="9" fill="#f7da6c" filter="url(#bl3)"/>
<rect x="-4" y="57" width="16" height="12" rx="4" fill="#e8b04e" filter="url(#bl2)"/>
<rect x="44" y="55" width="20" height="14" rx="5" fill="#dc9036" filter="url(#bl2)"/>
<ellipse cx="3" cy="46" rx="6" ry="9" fill="#4a0c02" filter="url(#bl15)"/>
<path d="M55,40 L73,39 L73,60 L66,62 L58,54 Z" fill="#4a0c02" filter="url(#bl15)" opacity="0.9"/>
<ellipse cx="70" cy="3" rx="5" ry="7" fill="#3a0800" filter="url(#bl15)"/>
<path d="M24.7,10.5 L57.5,8.9 L55.9,21.5 L51.3,35.5 L26.2,35.5 L24.7,21.5 Z" fill="#7a2006" filter="url(#bl15)"/>
<path d="M26.5,12 L55.5,10.5 L54,21.5 L50,33.5 L27.5,33.5 L26.5,21.5 Z" fill="#2a0300" filter="url(#bl1)"/>
<ellipse cx="30" cy="15" rx="5.5" ry="4.5" fill="#8a2a0a" filter="url(#bl15)" opacity="0.85"/>
<path d="M-1,36 L12,37.5 L26,35.5" fill="none" stroke="#c86a20" stroke-width="2.6" stroke-linecap="round" stroke-linejoin="round" filter="url(#bl15)" opacity="0.8"/>
<path d="M51,36 L55,45 L58,56 L63,64" fill="none" stroke="#b85a18" stroke-width="2.6" stroke-linecap="round" stroke-linejoin="round" filter="url(#bl15)" opacity="0.7"/>
<rect x="1" y="58.900000000000006" width="15" height="1.6" fill="#2838c0"/><rect x="1.5" y="61.0" width="9" height="1.4" fill="#b06848" opacity="0.7"/></svg>
<line x1="291.9" y1="243.9" x2="362.7" y2="243.9" stroke="#fff8e8" stroke-width="1.8" stroke-dasharray="4.3 2.5"/>
<line x1="291.9" y1="248.7" x2="362.7" y2="248.7" stroke="#fff8e8" stroke-width="1.8" stroke-dasharray="4.3 2.5"/>
<rect x="257.0" y="290.0" width="146.4" height="14.0" fill="url(#gE)"/>
<line x1="291.6" y1="246.4" x2="261.9" y2="283.1" stroke="#000" stroke-width="2" stroke-dasharray="4 2.6"/>
<path d="M258.8,287.0 L259.7,281.3 L264.2,284.9 Z" fill="#000"/>
<line x1="363.3" y1="246.4" x2="397.4" y2="283.3" stroke="#000" stroke-width="2" stroke-dasharray="4 2.6"/>
<path d="M400.8,287.0 L395.3,285.3 L399.5,281.4 Z" fill="#000"/>
<text x="257.5" y="229.1" font-size="14.4">E</text>
<text x="368.9" y="233.0" font-size="9" letter-spacing="0.56">dT/dt = 10<tspan dy="-3.4" font-size="6.6">o</tspan><tspan dy="3.4">C/min</tspan></text>
<path d="M257.3,311.9 V392.4 H404.8" fill="none" stroke="#2a2a2a" stroke-width="1.3"/>
<line x1="253.70000000000002" y1="392.4" x2="257.3" y2="392.4" stroke="#2a2a2a" stroke-width="1.2"/>
<text x="249.10000000000002" y="395.4" font-size="8.4" letter-spacing="0.45" text-anchor="end">0.0</text>
<line x1="253.70000000000002" y1="376.4" x2="257.3" y2="376.4" stroke="#2a2a2a" stroke-width="1.2"/>
<text x="249.10000000000002" y="379.4" font-size="8.4" letter-spacing="0.45" text-anchor="end">0.2</text>
<line x1="253.70000000000002" y1="360.4" x2="257.3" y2="360.4" stroke="#2a2a2a" stroke-width="1.2"/>
<text x="249.10000000000002" y="363.4" font-size="8.4" letter-spacing="0.45" text-anchor="end">0.4</text>
<line x1="253.70000000000002" y1="344.4" x2="257.3" y2="344.4" stroke="#2a2a2a" stroke-width="1.2"/>
<text x="249.10000000000002" y="347.4" font-size="8.4" letter-spacing="0.45" text-anchor="end">0.6</text>
<line x1="253.70000000000002" y1="328.4" x2="257.3" y2="328.4" stroke="#2a2a2a" stroke-width="1.2"/>
<text x="249.10000000000002" y="331.4" font-size="8.4" letter-spacing="0.45" text-anchor="end">0.8</text>
<line x1="253.70000000000002" y1="312.4" x2="257.3" y2="312.4" stroke="#2a2a2a" stroke-width="1.2"/>
<text x="249.10000000000002" y="315.4" font-size="8.4" letter-spacing="0.45" text-anchor="end">1.0</text>
<line x1="257.3" y1="392.4" x2="257.3" y2="396.0" stroke="#2a2a2a" stroke-width="1.2"/>
<text x="257.5" y="409.1" font-size="8.3" letter-spacing="0.3" text-anchor="middle">0</text>
<line x1="278.4" y1="392.4" x2="278.4" y2="396.0" stroke="#2a2a2a" stroke-width="1.2"/>
<text x="278.6" y="409.1" font-size="8.3" letter-spacing="0.3" text-anchor="middle">2</text>
<line x1="299.4" y1="392.4" x2="299.4" y2="396.0" stroke="#2a2a2a" stroke-width="1.2"/>
<text x="299.6" y="409.1" font-size="8.3" letter-spacing="0.3" text-anchor="middle">4</text>
<line x1="320.5" y1="392.4" x2="320.5" y2="396.0" stroke="#2a2a2a" stroke-width="1.2"/>
<text x="320.7" y="409.1" font-size="8.3" letter-spacing="0.3" text-anchor="middle">6</text>
<line x1="341.6" y1="392.4" x2="341.6" y2="396.0" stroke="#2a2a2a" stroke-width="1.2"/>
<text x="341.8" y="409.1" font-size="8.3" letter-spacing="0.3" text-anchor="middle">8</text>
<line x1="362.7" y1="392.4" x2="362.7" y2="396.0" stroke="#2a2a2a" stroke-width="1.2"/>
<text x="362.9" y="409.1" font-size="8.3" letter-spacing="0.3" text-anchor="middle">10</text>
<line x1="383.7" y1="392.4" x2="383.7" y2="396.0" stroke="#2a2a2a" stroke-width="1.2"/>
<text x="383.9" y="409.1" font-size="8.3" letter-spacing="0.3" text-anchor="middle">12</text>
<line x1="404.8" y1="392.4" x2="404.8" y2="396.0" stroke="#2a2a2a" stroke-width="1.2"/>
<text x="405.0" y="409.1" font-size="8.3" letter-spacing="0.3" text-anchor="middle">14</text>
<text x="275.5" y="417.6" font-size="9.4" letter-spacing="0.32">Distance <tspan font-size="9.2" letter-spacing="0">[µm]</tspan></text>
<polyline points="257.3,313.0 266.1,314.0 278.1,315.1 290.2,316.1 294.2,320.1 297.3,332.2 300.3,346.2 303.3,364.4 306.3,380.4 310.3,391.5 316.4,392.5 324.4,390.5 333.0,390.4 339.1,390.4 345.1,388.4 349.1,383.4 353.1,372.3 356.1,362.3 359.2,352.2 362.2,340.2 365.2,328.1 368.2,319.1 373.2,313.0 379.3,313.0 385.3,315.0 389.3,319.1 394.3,315.0 400.4,316.0 404.8,318.1" fill="none" stroke="#d91e1e" stroke-width="2.5" stroke-dasharray="4.2 7.8" stroke-linecap="round" stroke-linejoin="round"/>
<polyline points="257.3,388.0 260.0,386.5 270.1,389.5 276.1,386.5 282.2,384.5 288.2,386.5 293.2,386.5 297.3,374.4 301.3,346.2 305.3,326.1 308.3,316.1 311.3,313.0 318.4,317.1 324.4,319.1 333.0,316.0 339.1,315.0 345.1,317.0 349.1,321.1 353.1,332.1 358.2,346.2 363.2,362.3 367.2,376.3 370.2,386.4 375.2,389.4 381.3,388.4 387.3,385.4 393.3,387.4 399.4,386.4 404.8,386.0" fill="none" stroke="#111" stroke-width="1.9" stroke-dasharray="1.7 1.7" stroke-linejoin="round"/>
<polyline points="257.3,388.0 260.0,387.5 266.1,389.5 273.1,392.1 278.1,390.5 283.2,386.5 288.2,383.5 294.2,383.5 297.3,372.4 300.3,358.3 303.3,340.2 306.3,326.1 309.3,316.5 312.0,313.0 315.0,312.2 319.4,316.6 325.5,314.8 331.6,317.8 336.5,327.0 341.0,325.0 346.2,322.7 351.1,325.7 355.0,333.0 358.4,341.6 361.2,354.0 365.2,370.3 369.2,382.4 374.2,388.4 379.3,390.4 385.3,388.4 391.3,386.4 397.3,386.4 404.8,386.4" fill="none" stroke="#3a4fcc" stroke-width="2.4" stroke-linejoin="round" stroke-linecap="round"/>
<svg x="501.1" y="217.6" width="71.9" height="65.8" viewBox="0 0 71.9 65.8" overflow="hidden"><rect width="71.9" height="65.8" fill="#eab444"/>
<rect width="71.9" height="65.8" fill="#fff" filter="url(#mot1)" opacity="0.9"/>
<rect width="71.9" height="65.8" fill="#fff" filter="url(#mot1)" transform="translate(0,66) scale(1,-1)" opacity="0.6"/>
<rect width="71.9" height="65.8" fill="#fff" filter="url(#mot2)" opacity="0.8"/>
<ellipse cx="38" cy="11" rx="16" ry="7" fill="#f4d462" filter="url(#bl3)" opacity="0.8"/>
<ellipse cx="8" cy="20" rx="9" ry="18" fill="#d48430" filter="url(#bl5)" opacity="0.6"/>
<ellipse cx="1" cy="6" rx="3" ry="9" fill="#a84410" filter="url(#bl2)"/>
<ellipse cx="5" cy="55" rx="8" ry="7" fill="#9a3410" filter="url(#bl2)"/>
<ellipse cx="3" cy="57" rx="4" ry="4" fill="#6a1a06" filter="url(#bl15)"/>
<path d="M55,29 L64,27 L73,25" fill="none" stroke="#c06018" stroke-width="4" stroke-linecap="round" stroke-linejoin="round" filter="url(#bl2)"/>
<ellipse cx="37" cy="36.5" rx="23" ry="18" fill="#c86820" filter="url(#bl3)"/>
<path d="M18,33 Q20,22 34,21 Q50,21 56,29 Q59,38 53,46 Q46,54 37,53 Q24,52 19,43 Z" fill="#7a1a06" filter="url(#bl15)"/>
<path d="M20.5,33 Q23,24 35,23 Q49,23 53,30 Q55,37 50,42 Q42,46 33,44 Q22,41 20.5,33 Z" fill="#2e0402" filter="url(#bl15)"/>
<ellipse cx="44" cy="45" rx="8" ry="4" fill="#6a1606" filter="url(#bl2)" opacity="0.8"/>
<ellipse cx="30" cy="27" rx="7" ry="3.5" fill="#1a0000" filter="url(#bl2)" opacity="0.7"/>
<ellipse cx="57" cy="29" rx="0.9" ry="0.9" fill="#f8e8a0"/>
<rect x="1" y="60.5" width="15" height="1.6" fill="#2838c0"/><rect x="1.5" y="62.599999999999994" width="9" height="1.4" fill="#b06848" opacity="0.7"/></svg>
<line x1="501.1" y1="256.8" x2="573.0" y2="256.8" stroke="#fff8e8" stroke-width="1.8" stroke-dasharray="4.3 2.5"/>
<line x1="501.1" y1="261.8" x2="573.0" y2="261.8" stroke="#fff8e8" stroke-width="1.8" stroke-dasharray="4.3 2.5"/>
<rect x="464.9" y="288.0" width="146.9" height="14.7" fill="url(#gF)"/>
<svg x="464.9" y="288.0" width="146.9" height="14.7" viewBox="464.9 288.0 146.9 14.7" overflow="hidden"><ellipse cx="467" cy="300" rx="6" ry="5" fill="#d06018" filter="url(#bl2)" opacity="0.8"/><ellipse cx="586" cy="289" rx="12" ry="5" fill="#d07020" filter="url(#bl3)" opacity="0.85"/><ellipse cx="576" cy="301" rx="8" ry="4" fill="#f4d458" filter="url(#bl3)" opacity="0.9"/><ellipse cx="528" cy="300" rx="18" ry="4" fill="#140000" filter="url(#bl3)" opacity="0.6"/></svg>
<line x1="500.6" y1="258.6" x2="469.9" y2="282.9" stroke="#000" stroke-width="2" stroke-dasharray="4 2.6"/>
<path d="M466.0,286.0 L468.1,280.6 L471.7,285.2 Z" fill="#000"/>
<line x1="571.9" y1="259.0" x2="605.1" y2="282.3" stroke="#000" stroke-width="2" stroke-dasharray="4 2.6"/>
<path d="M609.2,285.2 L603.4,284.7 L606.8,280.0 Z" fill="#000"/>
<text x="469.59999999999997" y="228.79999999999998" font-size="14.4">F</text>
<text x="575.8" y="231.8" font-size="9" letter-spacing="0.56">dT/dt = 50<tspan dy="-3.4" font-size="6.6">o</tspan><tspan dy="3.4">C/min</tspan></text>
<path d="M464.9,310.8 V392.2 H611.7" fill="none" stroke="#2a2a2a" stroke-width="1.3"/>
<line x1="461.29999999999995" y1="392.2" x2="464.9" y2="392.2" stroke="#2a2a2a" stroke-width="1.2"/>
<text x="456.7" y="395.2" font-size="8.4" letter-spacing="0.45" text-anchor="end">0.0</text>
<line x1="461.29999999999995" y1="376.0" x2="464.9" y2="376.0" stroke="#2a2a2a" stroke-width="1.2"/>
<text x="456.7" y="379.0" font-size="8.4" letter-spacing="0.45" text-anchor="end">0.2</text>
<line x1="461.29999999999995" y1="359.8" x2="464.9" y2="359.8" stroke="#2a2a2a" stroke-width="1.2"/>
<text x="456.7" y="362.8" font-size="8.4" letter-spacing="0.45" text-anchor="end">0.4</text>
<line x1="461.29999999999995" y1="343.7" x2="464.9" y2="343.7" stroke="#2a2a2a" stroke-width="1.2"/>
<text x="456.7" y="346.7" font-size="8.4" letter-spacing="0.45" text-anchor="end">0.6</text>
<line x1="461.29999999999995" y1="327.5" x2="464.9" y2="327.5" stroke="#2a2a2a" stroke-width="1.2"/>
<text x="456.7" y="330.5" font-size="8.4" letter-spacing="0.45" text-anchor="end">0.8</text>
<line x1="461.29999999999995" y1="311.3" x2="464.9" y2="311.3" stroke="#2a2a2a" stroke-width="1.2"/>
<text x="456.7" y="314.3" font-size="8.4" letter-spacing="0.45" text-anchor="end">1.0</text>
<line x1="464.9" y1="392.2" x2="464.9" y2="395.8" stroke="#2a2a2a" stroke-width="1.2"/>
<text x="465.1" y="408.9" font-size="8.3" letter-spacing="0.3" text-anchor="middle">0</text>
<line x1="485.9" y1="392.2" x2="485.9" y2="395.8" stroke="#2a2a2a" stroke-width="1.2"/>
<text x="486.1" y="408.9" font-size="8.3" letter-spacing="0.3" text-anchor="middle">2</text>
<line x1="506.8" y1="392.2" x2="506.8" y2="395.8" stroke="#2a2a2a" stroke-width="1.2"/>
<text x="507.0" y="408.9" font-size="8.3" letter-spacing="0.3" text-anchor="middle">4</text>
<line x1="527.8" y1="392.2" x2="527.8" y2="395.8" stroke="#2a2a2a" stroke-width="1.2"/>
<text x="528.0" y="408.9" font-size="8.3" letter-spacing="0.3" text-anchor="middle">6</text>
<line x1="548.8" y1="392.2" x2="548.8" y2="395.8" stroke="#2a2a2a" stroke-width="1.2"/>
<text x="549.0" y="408.9" font-size="8.3" letter-spacing="0.3" text-anchor="middle">8</text>
<line x1="569.8" y1="392.2" x2="569.8" y2="395.8" stroke="#2a2a2a" stroke-width="1.2"/>
<text x="570.0" y="408.9" font-size="8.3" letter-spacing="0.3" text-anchor="middle">10</text>
<line x1="590.7" y1="392.2" x2="590.7" y2="395.8" stroke="#2a2a2a" stroke-width="1.2"/>
<text x="590.9" y="408.9" font-size="8.3" letter-spacing="0.3" text-anchor="middle">12</text>
<line x1="611.7" y1="392.2" x2="611.7" y2="395.8" stroke="#2a2a2a" stroke-width="1.2"/>
<text x="611.9" y="408.9" font-size="8.3" letter-spacing="0.3" text-anchor="middle">14</text>
<text x="487.1" y="417.6" font-size="9.4" letter-spacing="0.32">Distance <tspan font-size="9.2" letter-spacing="0">[µm]</tspan></text>
<polyline points="464.9,336.0 468.0,334.2 474.1,330.1 480.1,325.1 484.1,318.1 487.2,312.0 490.2,318.1 492.2,328.1 494.2,342.2 496.2,356.3 499.2,370.4 504.3,382.5 510.3,387.5 516.3,391.5 520.4,386.5 526.4,386.5 532.4,384.5 538.0,383.4 546.1,381.4 552.1,380.0 560.1,380.4 566.2,382.4 570.2,377.3 573.2,366.3 577.2,358.3 581.2,352.2 586.3,346.2 590.3,340.2 594.3,332.1 598.3,324.1 602.3,318.1 607.4,315.0 611.7,313.0" fill="none" stroke="#d91e1e" stroke-width="2.5" stroke-dasharray="4.2 7.8" stroke-linecap="round" stroke-linejoin="round"/>
<polyline points="464.9,358.0 468.0,368.4 474.1,371.4 480.1,372.4 483.1,386.5 485.1,391.5 489.2,380.4 494.2,360.3 499.6,344.8 502.5,332.0 505.1,322.8 509.2,317.3 514.7,313.9 518.1,313.2 522.9,320.8 531.2,320.8 536.6,324.2 542.1,329.0 547.6,327.0 553.1,323.5 558.6,327.0 566.8,327.6 572.3,333.8 575.1,342.0 577.2,352.2 581.2,362.3 585.3,365.3 590.3,359.3 593.3,364.3 596.3,372.3 601.3,382.4 606.4,384.8 611.7,386.4" fill="none" stroke="#111" stroke-width="1.9" stroke-dasharray="1.7 1.7" stroke-linejoin="round"/>
<polyline points="464.9,384.0 468.0,390.5 474.1,390.1 480.1,391.5 485.1,390.5 489.2,382.5 493.2,370.4 497.2,358.3 500.3,345.0 504.0,341.0 507.1,337.9 510.6,329.0 515.4,316.0 518.1,311.9 522.9,311.9 527.7,313.5 533.2,312.1 539.4,320.1 544.9,329.7 549.0,338.6 553.8,335.2 560.0,328.3 564.1,326.7 567.5,331.1 570.9,340.7 573.5,350.0 576.1,361.5 580.3,366.3 585.5,367.5 590.8,374.4 596.0,380.0 601.3,386.5 606.0,388.3 611.7,389.2" fill="none" stroke="#3a4fcc" stroke-width="2.4" stroke-linejoin="round" stroke-linecap="round"/>
<text transform="translate(8.9,124.2) rotate(-90)" font-size="9" letter-spacing="0.6" text-anchor="middle">Normalized Intensity [a.u.]</text>
<text transform="translate(8.9,344.4) rotate(-90)" font-size="9" letter-spacing="0.6" text-anchor="middle">Normalized Intensity [a.u.]</text>
<rect x="113.8" y="426.8" width="418" height="19.4" fill="#fff" stroke="#333" stroke-width="1"/>
<line x1="125.9" y1="436.4" x2="175" y2="436.4" stroke="#d91e1e" stroke-width="2.5" stroke-dasharray="6 8.3" stroke-linecap="round"/>
<text x="181.4" y="440.8" font-size="11" letter-spacing="0.2" fill="#e0401c" style="stroke:#e0401c">Ice</text>
<line x1="235.9" y1="436.4" x2="280.7" y2="436.4" stroke="#1e5ac8" stroke-width="2.4"/>
<text x="285.9" y="440.8" font-size="11" letter-spacing="0.37" fill="#2a62cc" style="stroke:#2a62cc">Organic Material</text>
<line x1="441" y1="436.4" x2="481" y2="436.4" stroke="#000" stroke-width="2.2" stroke-dasharray="2.2 2"/>
<text x="485.9" y="440.8" font-size="11" letter-spacing="0.35" fill="#000">Water</text>
</svg></body></html>
